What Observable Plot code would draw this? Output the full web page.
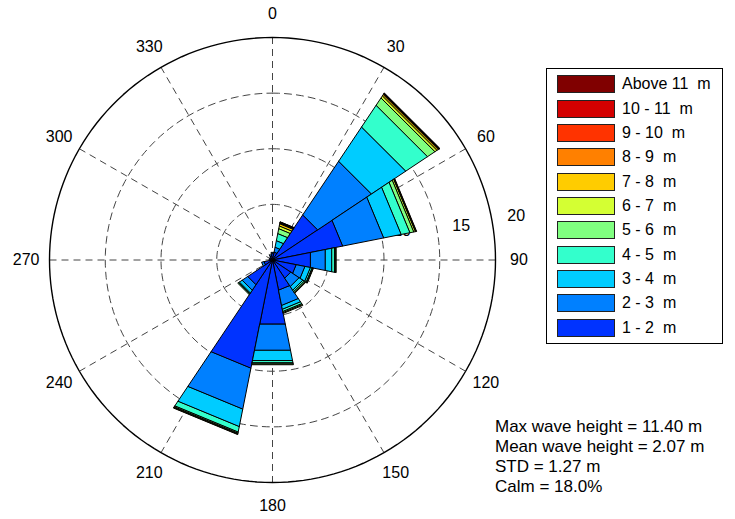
<!DOCTYPE html>
<html><head><meta charset="utf-8">
<script src="https://cdn.jsdelivr.net/npm/d3@7"></script>
<script src="https://cdn.jsdelivr.net/npm/@observablehq/plot@0.6"></script>
<style>
body{margin:0;background:#fff;font-family:"Liberation Sans",Arial,Helvetica,sans-serif;}
#wrap{position:relative;width:735px;height:519px;overflow:hidden;}
#legend{position:absolute;left:546px;top:68px;width:177px;height:276px;border:1px solid #000;box-sizing:border-box;background:#fff;}
.row{position:absolute;left:10px;height:19px;}
.sw{position:absolute;left:0;top:0;width:58px;height:18px;border:1px solid #222;box-sizing:border-box;}
.lab{position:absolute;left:65px;top:-1px;font-size:16px;line-height:20px;white-space:pre;color:#000;}
#stats{position:absolute;left:495px;top:417px;font-size:17px;line-height:20px;color:#000;}
</style></head>
<body><div id="wrap"><div id="chart"></div><div id="legend"></div><div id="stats"></div></div>
<script>
// ---- data ----
const directions = [0, 22.5, 45, 67.5, 90, 112.5, 135, 157.5, 180, 202.5, 225, 247.5, 270, 292.5, 315, 337.5];
const binLabels = ["1 - 2  m","2 - 3  m","3 - 4  m","4 - 5  m","5 - 6  m","6 - 7  m","7 - 8  m","8 - 9  m","9 - 10  m","10 - 11  m","Above 11  m"];
const binColors = ["#0033ff","#0080ff","#00ccff","#33ffcc","#80ff80","#d4ff33","#ffcc00","#ff8000","#ff3300","#d40000","#800000"];
// frequency (%) by direction for each wave-height bin
const f1_2   = [0.6, 0.75, 4.9, 6.45, 3.5, 2.2, 2.0, 2.8, 5.9, 9.95, 2.7, 0.8, 0.3, 0.3, 0.3, 0.4];
const f2_3   = [0.1, 0.45, 5.8, 3.75, 1.35, 0.8, 0.9, 1.4, 2.4, 3.75, 0.6, 0.2, 0, 0, 0, 0.1];
const f3_4   = [0, 0.6, 3.7, 1.6, 0.6, 0.5, 0.4, 0.35, 0.95, 1.6, 0.3, 0, 0, 0, 0, 0];
const f4_5   = [0, 0.65, 2.35, 0.8, 0.25, 0.15, 0.15, 0.2, 0.2, 0.5, 0.1, 0, 0, 0, 0, 0];
const f5_6   = [0, 0.45, 0.8, 0.35, 0.08, 0.07, 0.1, 0.1, 0.1, 0.1, 0.05, 0, 0, 0, 0, 0];
const f6_7   = [0, 0.25, 0.22, 0.15, 0.04, 0.03, 0.05, 0.05, 0.05, 0.07, 0, 0, 0, 0, 0, 0];
const f7_8   = [0, 0.2, 0.14, 0.05, 0, 0, 0, 0, 0, 0.03, 0, 0, 0, 0, 0, 0];
const f8_9   = [0, 0.07, 0.07, 0.03, 0, 0, 0, 0, 0, 0, 0, 0, 0, 0, 0, 0];
const f9_10  = [0, 0.04, 0.04, 0, 0, 0, 0, 0, 0, 0, 0, 0, 0, 0, 0, 0];
const f10_11 = [0, 0.03, 0.02, 0, 0, 0, 0, 0, 0, 0, 0, 0, 0, 0, 0, 0];
const fAbove11 = [0, 0.01, 0.01, 0, 0, 0, 0, 0, 0, 0, 0, 0, 0, 0, 0, 0];
const ringValues = [5, 10, 15];
const outerValue = 20;
const ringLabels = ["5", "10", "15", "20"];
const angleTicks = [0, 30, 60, 90, 120, 150, 180, 210, 240, 270, 300, 330];
const statLines = ["Max wave height = 11.40 m", "Mean wave height = 2.07 m", "STD = 1.27 m", "Calm = 18.0%"];

// ---- geometry helpers ----
const rad = d => d * Math.PI / 180;
const px = (r, a) => r * Math.sin(rad(a));
const py = (r, a) => r * Math.cos(rad(a));
const series = [f1_2, f2_3, f3_4, f4_5, f5_6, f6_7, f7_8, f8_9, f9_10, f10_11, fAbove11];
const half = 360 / directions.length / 2;

const bandPolys = series.map(() => []);
directions.forEach((dir, i) => {
  let r0 = 0;
  series.forEach((s, b) => {
    const v = s[i];
    if (v > 0) {
      const r1 = r0 + v, a0 = dir - half, a1 = dir + half, id = dir + "_" + b;
      bandPolys[b].push(
        {id, x: px(r0, a0), y: py(r0, a0)},
        {id, x: px(r1, a0), y: py(r1, a0)},
        {id, x: px(r1, a1), y: py(r1, a1)},
        {id, x: px(r0, a1), y: py(r0, a1)}
      );
      r0 = r1;
    }
  });
});

const circlePts = [];
[...ringValues, outerValue].forEach(r => {
  for (let a = 0; a <= 360; a += 2) circlePts.push({r, x: px(r, a), y: py(r, a)});
});
const inner = circlePts.filter(d => d.r !== outerValue);
const outer = circlePts.filter(d => d.r === outerValue);

const spokes = angleTicks.map(a => ({x2: px(outerValue, a), y2: py(outerValue, a)}));
const dirLabels = angleTicks.map(a => ({t: String(a), x: px(22.1, a), y: py(22.1, a)}));
// ring labels sit just outside each ring, near the 80° bearing (inner ones end up behind the bars)
const ringLabelAngle = v => v < 10 ? 70 : v < 15 ? 77.5 : 79.8;
const ringLabelPad = v => v < 15 ? 1.9 : 2.2;
const rl = [...ringValues, outerValue].map((v, k) => {
  const r = v + ringLabelPad(v), a = ringLabelAngle(v);
  return {t: ringLabels[k], x: px(r, a), y: py(r, a)};
});

const dash = "7,5";
const marks = [
  Plot.line(inner, {x: "x", y: "y", z: "r", stroke: "#444", strokeWidth: 1, strokeDasharray: dash}),
  Plot.link(spokes, {x1: 0, y1: 0, x2: "x2", y2: "y2", stroke: "#444", strokeWidth: 1, strokeDasharray: dash}),
  Plot.line(outer, {x: "x", y: "y", stroke: "#000", strokeWidth: 1.4}),
  Plot.text(dirLabels, {x: "x", y: "y", text: "t", fontSize: 16, fill: "#000"}),
  Plot.text(rl, {x: "x", y: "y", text: "t", fontSize: 16, fill: "#000"}),
  ...bandPolys.map((pts, b) => Plot.line(pts, {x: "x", y: "y", z: "id", fill: binColors[b], stroke: "#000", strokeWidth: 1, curve: "linear-closed"}))
];

const chart = Plot.plot({
  width: 735, height: 519,
  marginLeft: 49, marginRight: 240, marginTop: 37, marginBottom: 37,
  x: {domain: [-outerValue, outerValue], axis: null},
  y: {domain: [-outerValue, outerValue], axis: null},
  style: {fontFamily: "'Liberation Sans', Arial, sans-serif", fontSize: "16px", background: "#fff", overflow: "visible"},
  marks
});
document.getElementById("chart").appendChild(chart);

// legend
const leg = document.getElementById("legend");
const tops = [6, 30.5, 55, 79.3, 103.6, 128, 152.3, 176.6, 201, 225.3, 249.7];
binLabels.slice().reverse().forEach((lab, k) => {
  const b = binLabels.length - 1 - k;
  const row = document.createElement("div");
  row.className = "row"; row.style.top = tops[k] + "px";
  row.innerHTML = `<div class="sw" style="background:${binColors[b]}"></div><div class="lab">${lab}</div>`;
  leg.appendChild(row);
});
document.getElementById("stats").innerHTML = statLines.map(s => `<div>${s}</div>`).join("");
</script></body></html>
